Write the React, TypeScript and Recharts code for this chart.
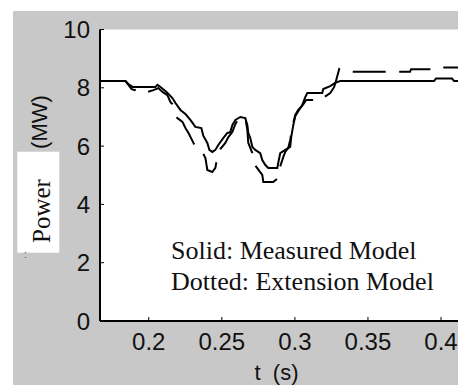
import React from 'react';
import { LineChart, Line, XAxis, YAxis, CartesianGrid } from 'recharts';

// Solid: Measured Model
const measuredT = [
  0.1667, 0.1841, 0.1861, 0.1889, 0.2046, 0.206, 0.208, 0.2114, 0.2135, 0.2162,
  0.2183, 0.2217, 0.2251, 0.2285, 0.2319, 0.236, 0.2374, 0.2401, 0.2415, 0.2435,
  0.2456, 0.2476, 0.2511, 0.2538, 0.2558, 0.2572, 0.2593, 0.2627, 0.2661, 0.2675,
  0.2681, 0.2695, 0.2709, 0.2729, 0.2763, 0.2777, 0.2798, 0.2818, 0.288, 0.2886,
  0.29, 0.2934, 0.2968, 0.2975, 0.2989, 0.3003, 0.3023, 0.305, 0.3071, 0.3085,
  0.3187, 0.3194, 0.3242, 0.3276, 0.331, 0.3952, 0.3966, 0.4075, 0.4089, 0.4167,
];
const measuredP = [
  8.23, 8.23, 8.13, 8.03, 8.03, 8.1, 8.03, 7.89, 7.79, 7.65,
  7.48, 7.24, 7.1, 6.9, 6.66, 6.62, 6.35, 6.11, 5.87, 5.8,
  5.87, 6.04, 6.28, 6.45, 6.48, 6.72, 6.9, 7.0, 6.96, 6.72,
  6.45, 6.28, 5.97, 5.87, 5.76, 5.52, 5.35, 5.25, 5.25, 5.42,
  5.76, 5.87, 5.97, 6.31, 6.72, 7.03, 7.2, 7.41, 7.68, 7.82,
  7.82, 7.96, 8.06, 8.17, 8.23, 8.23, 8.32, 8.32, 8.23, 8.23,
];

// Dotted: Extension Model
const extensionT = [
  0.1667, 0.1841, 0.1861, 0.1882, 0.1902, 0.1943, 0.1991, 0.2032, 0.2066, 0.2094,
  0.2128, 0.2149, 0.2162, 0.2196, 0.2231, 0.2251, 0.2272, 0.2306, 0.2319, 0.2367,
  0.2388, 0.2401, 0.2435, 0.2456, 0.2463, 0.249, 0.2524, 0.2545, 0.2572, 0.2593,
  0.2613, 0.2634, 0.2661, 0.2675, 0.2681, 0.2709, 0.2716, 0.2777, 0.2784, 0.2852,
  0.2886, 0.2887, 0.2921, 0.2934, 0.2954, 0.2968, 0.2982, 0.3003, 0.3023, 0.305,
  0.3078, 0.3187, 0.3201, 0.3242, 0.3269, 0.3283, 0.3303, 0.3331, 0.3788, 0.3795,
  0.3952, 0.3966, 0.4167,
];
const extensionP = [
  8.23, 8.23, 8.1, 7.96, 7.92, 7.99, 7.86, 7.92, 7.99, 7.86,
  7.75, 7.51, 7.44, 6.96, 6.83, 6.62, 6.45, 6.11, 5.97, 5.8,
  5.59, 5.18, 5.11, 5.25, 5.45, 5.9, 6.11, 6.31, 6.48, 6.76,
  6.93, 7.0, 6.96, 6.55, 6.11, 5.76, 5.42, 5.01, 4.77, 4.77,
  4.91, 5.11, 5.63, 5.8, 5.93, 6.21, 6.66, 7.07, 7.24, 7.38,
  7.58, 7.58, 7.68, 7.82, 8.03, 8.27, 8.64, 8.55, 8.55, 8.64,
  8.64, 8.7, 8.7,
];

const xTicks = [0.2, 0.25, 0.3, 0.35, 0.4];
const xTickLabels = ['0.2', '0.25', '0.3', '0.35', '0.4'];
const yTicks = [0, 2, 4, 6, 8, 10];
const xDomain = [1 / 6, 5 / 12];
const yDomain = [0, 10];

const measured = measuredT.map((t, i) => ({ t, p: measuredP[i] }));
const extension = extensionT.map((t, i) => ({ t, p: extensionP[i] }));

const SANS = '"Liberation Sans", Arial, sans-serif';
const SERIF = '"Liberation Serif", "Times New Roman", serif';

export default function App() {
  return (
    <div style={{ position: 'relative', width: 458, height: 377 }}>
      <div
        style={{
          position: 'absolute',
          left: 5,
          top: 3,
          width: 453,
          height: 374,
          background: '#c8c8c8',
        }}
      />
      <div style={{ position: 'absolute', left: 0, top: 0 }}>
        <LineChart
          width={458}
          height={377}
          margin={{ top: 21.5, right: 0.6, bottom: 0, left: 0 }}
        >
          <CartesianGrid fill="#ffffff" horizontal={false} vertical={false} />
          <XAxis
            xAxisId="b"
            type="number"
            dataKey="t"
            domain={xDomain}
            allowDataOverflow
            ticks={xTicks}
            tickFormatter={(v) => xTickLabels[xTicks.indexOf(v)] ?? String(v)}
            height={64}
            tickSize={-4}
            tickMargin={16}
            stroke="#000"
            axisLine={{ stroke: '#000', strokeWidth: 2 }}
            tick={{ fill: '#111', fontSize: 24, fontFamily: SANS }}
          />
          <XAxis
            xAxisId="top"
            orientation="top"
            type="number"
            dataKey="t"
            domain={xDomain}
            allowDataOverflow
            ticks={xTicks}
            height={0}
            mirror
            tickSize={4}
            stroke="#000"
            axisLine={{ stroke: '#000', strokeWidth: 1.5 }}
            tick={() => <g />}
          />
          <YAxis
            yAxisId="l"
            type="number"
            domain={yDomain}
            ticks={yTicks}
            width={92}
            tickSize={-4}
            tickMargin={14}
            stroke="#000"
            axisLine={{ stroke: '#000', strokeWidth: 2 }}
            tick={{ fill: '#111', fontSize: 24, fontFamily: SANS }}
          />
          <YAxis
            yAxisId="r"
            orientation="right"
            type="number"
            domain={yDomain}
            ticks={yTicks}
            width={0}
            mirror
            tickSize={4}
            stroke="#000"
            axisLine={{ stroke: '#000', strokeWidth: 1.5 }}
            tick={() => <g />}
          />
          <Line
            xAxisId="b"
            yAxisId="l"
            data={measured}
            dataKey="p"
            type="linear"
            stroke="#000"
            strokeWidth={2}
            dot={false}
            activeDot={false}
            isAnimationActive={false}
          />
          <Line
            xAxisId="b"
            yAxisId="l"
            data={extension}
            dataKey="p"
            type="linear"
            stroke="#000"
            strokeWidth={2}
            strokeDasharray="33 13.5"
            strokeDashoffset={39.5}
            dot={false}
            activeDot={false}
            isAnimationActive={false}
          />
        </LineChart>
      </div>
      <svg
        width={458}
        height={377}
        style={{ position: 'absolute', left: 0, top: 0, pointerEvents: 'none' }}
      >
        <text
          transform="translate(31,114) rotate(-90)"
          textAnchor="middle"
          dominantBaseline="central"
          fontFamily={SANS}
          fontSize={22}
          fill="#111"
        >
          (MW)
        </text>
        <rect x={9.3} y={143.7} width={42} height={101} fill="#ffffff" />
        <text
          transform="translate(42,203) rotate(-90)"
          textAnchor="middle"
          fontFamily={SERIF}
          fontSize={25}
          fill="#111"
        >
          Power
        </text>
        <text x={16} y={250} fontFamily={SANS} fontSize={10} fill="#444">
          :
        </text>
        <text
          x={268.5}
          y={372}
          textAnchor="middle"
          fontFamily={SANS}
          fontSize={22}
          fill="#111"
          style={{ whiteSpace: 'pre' }}
        >
          {'t  (s)'}
        </text>
        <text x={163} y={251} fontFamily={SERIF} fontSize={26} fill="#111">
          Solid: Measured Model
        </text>
        <text x={163} y={282} fontFamily={SERIF} fontSize={26} fill="#111">
          Dotted: Extension Model
        </text>
      </svg>
    </div>
  );
}
